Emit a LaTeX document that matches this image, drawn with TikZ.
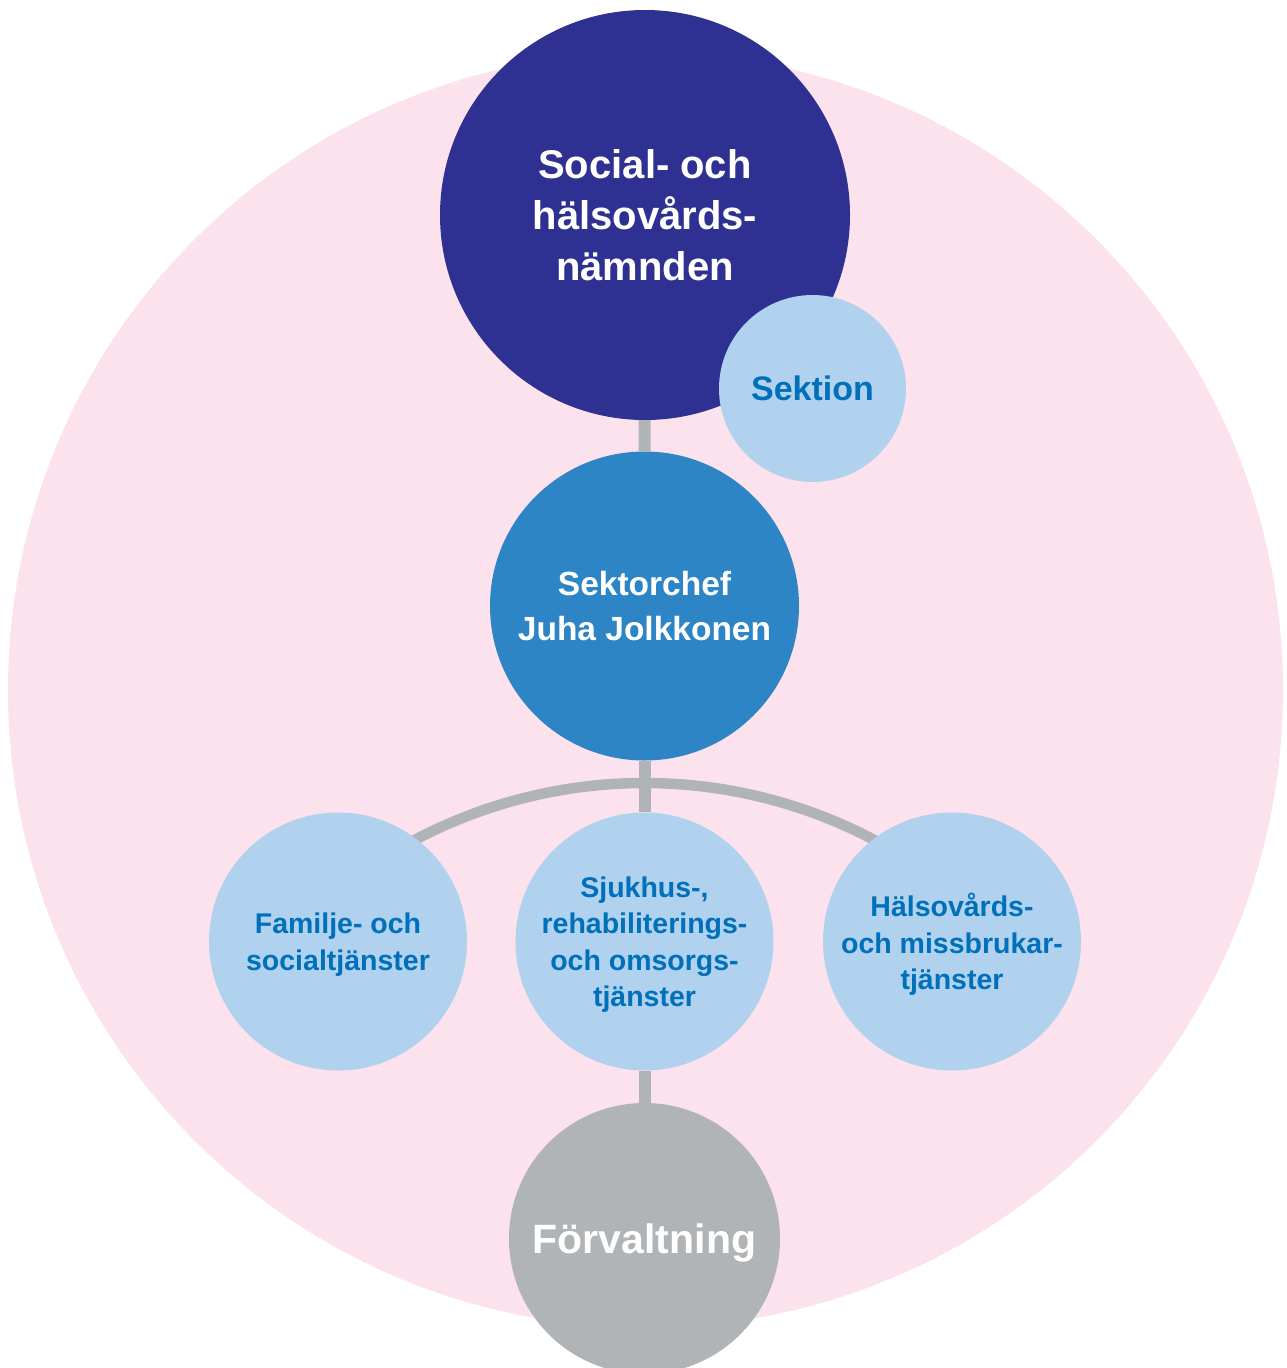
\documentclass[tikz,border=0pt]{standalone}
\usepackage{fontspec}
\setmainfont{Liberation Sans}
\usetikzlibrary{backgrounds}

\definecolor{fieldpink}{RGB}{251,226,236}
\definecolor{boardnavy}{RGB}{46,49,146}
\definecolor{chiefblue}{RGB}{46,133,198}
\definecolor{unitblue}{RGB}{176,210,238}
\definecolor{unittext}{RGB}{0,112,187}
\definecolor{linkgray}{RGB}{177,180,182}

% font size with its own line spacing, always bold
\newcommand\setsz[2]{\fontsize{#1}{#2}\selectfont\bfseries}

\begin{document}
\begin{tikzpicture}[x=1pt,y=1pt,
  disc/.style={circle, draw=none, inner sep=0pt, minimum size=#1,
               align=center, text depth=0pt},
  unit/.style={disc=258, fill=unitblue, text=unittext,
               font=\setsz{28.5}{36.5}},
  link/.style={draw=linkgray, line width=12pt},
  arclink/.style={draw=linkgray, line width=10.5pt}]

\useasboundingbox (0,0) rectangle (1287,-1368);

% organisation bodies
\node[disc=410, fill=boardnavy, text=white, font=\setsz{40}{51}]
  (board) at (645,-215) {Social- och\\hälsovårds-\\nämnden};
\node[disc=187, fill=unitblue, text=unittext, font=\setsz{34}{40}]
  (section) at (812.5,-388.5) {Sektion};
\node[disc=309, fill=chiefblue, text=white, font=\setsz{33.5}{45}]
  (chief) at (644.5,-606) {Sektorchef\\Juha Jolkkonen};
\node[unit] (family) at (338,-941.5) {Familje- och\\socialtjänster};
\node[unit] (hospital) at (644.5,-941.5)
  {Sjukhus-,\\rehabiliterings-\\och omsorgs-\\tjänster};
\node[unit] (health) at (952,-941.5)
  {Hälsovårds-\\och missbrukar-\\tjänster};
\node[disc=271, fill=linkgray, text=white, font=\setsz{41}{49}]
  (admin) at (644.5,-1238.5) {Förvaltning};

% sector field and connectors behind the discs
\begin{scope}[on background layer]
  \fill[fieldpink] (645.5,-690) circle[radius=637.5];
  \coordinate (hub) at (644.5,-783);
  \draw[link] (board) -- (chief);
  \draw[link] (chief) -- (hospital);
  \draw[link] (hospital) -- (admin);
  \draw[arclink] (hub) arc[start angle=90, end angle=132, radius=492];
  \draw[arclink] (hub) arc[start angle=90, end angle=48, radius=492];
\end{scope}
\end{tikzpicture}
\end{document}
